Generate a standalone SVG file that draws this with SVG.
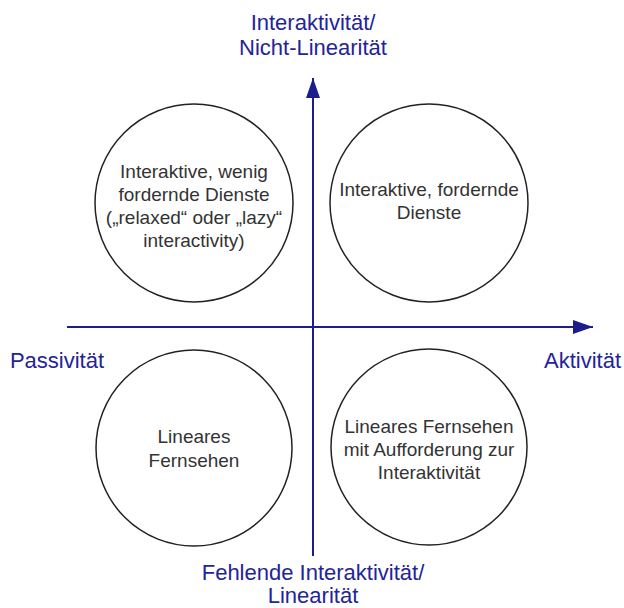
<svg xmlns="http://www.w3.org/2000/svg" width="624" height="608" viewBox="0 0 624 608">
<style>
.axis{stroke:#1c1c8c;stroke-width:2;fill:none}
.lbl{font-family:"Liberation Sans",Arial,sans-serif;font-size:22px;fill:#23239a;text-anchor:middle}
.c{fill:#fff;stroke:#222;stroke-width:1.5}
.t{font-family:"Liberation Sans",Arial,sans-serif;font-size:19px;fill:#333;text-anchor:middle}
</style>
<defs>
<marker id="ah" markerWidth="20" markerHeight="14" refX="20" refY="7" orient="auto" markerUnits="userSpaceOnUse">
<path d="M0,0 L20,7 L0,14 Z" fill="#1c1c8c"/>
</marker>
</defs>
<rect width="624" height="608" fill="#fff"/>
<g id="n_tl"><circle class="c" cx="194" cy="203" r="99"/>
<text class="t"><tspan x="194" y="178">Interaktive, wenig</tspan><tspan x="194" y="201">fordernde Dienste</tspan><tspan x="194" y="224">(„relaxed“ oder „lazy“</tspan><tspan x="194" y="247">interactivity)</tspan></text></g>
<g id="n_tr"><circle class="c" cx="429" cy="203" r="99"/>
<text class="t"><tspan x="429" y="196">Interaktive, fordernde</tspan><tspan x="429" y="219">Dienste</tspan></text></g>
<g id="n_bl"><circle class="c" cx="194" cy="448" r="98"/>
<text class="t"><tspan x="194" y="443">Lineares</tspan><tspan x="194" y="467">Fernsehen</tspan></text></g>
<g id="n_br"><circle class="c" cx="429" cy="447" r="98"/>
<text class="t"><tspan x="429" y="433">Lineares Fernsehen</tspan><tspan x="429" y="456">mit Aufforderung zur</tspan><tspan x="429" y="479">Interaktivität</tspan></text></g>
<g id="connectors">
<line class="axis" x1="313" y1="556" x2="313" y2="78" marker-end="url(#ah)"/>
<line class="axis" x1="67" y1="327" x2="593" y2="327" marker-end="url(#ah)"/>
</g>
<g id="labels">
<text class="lbl"><tspan x="313" y="30">Interaktivität/</tspan><tspan x="313" y="55">Nicht-Linearität</tspan></text>
<text class="lbl" x="57" y="368">Passivität</text>
<text class="lbl" x="621" y="368" style="text-anchor:end">Aktivität</text>
<text class="lbl"><tspan x="313" y="580">Fehlende Interaktivität/</tspan><tspan x="313" y="603">Linearität</tspan></text>
</g>
</svg>
